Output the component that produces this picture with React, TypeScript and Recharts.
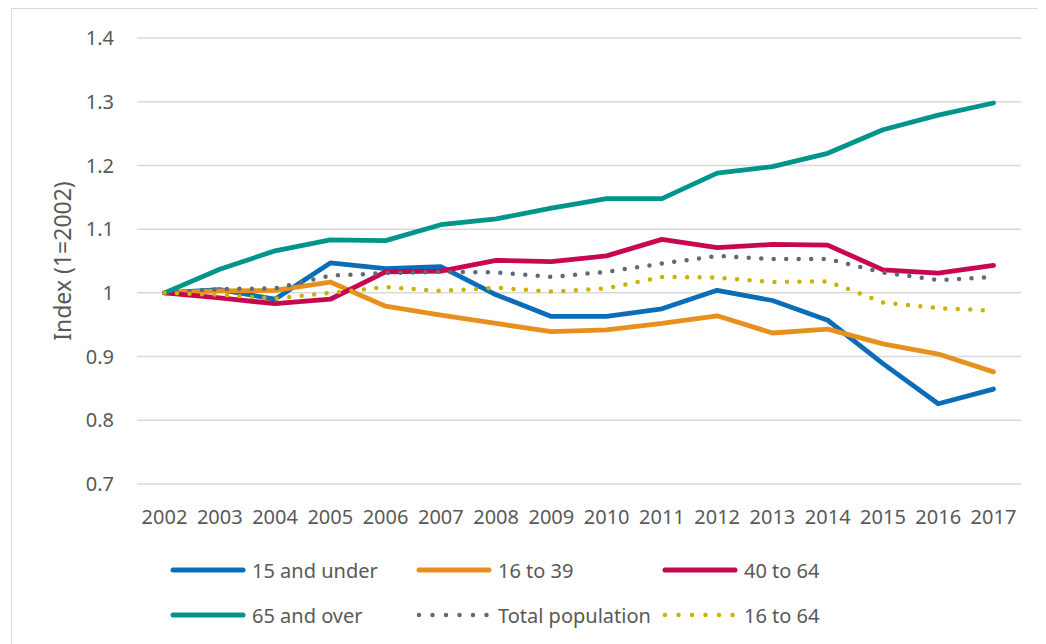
import React from "react";
import { LineChart, Line, XAxis, YAxis, CartesianGrid, Legend } from "recharts";

const years = ["2002","2003","2004","2005","2006","2007","2008","2009","2010","2011","2012","2013","2014","2015","2016","2017"];
const under15 = [1.0, 1.005, 0.99, 1.047, 1.038, 1.041, 0.997, 0.963, 0.963, 0.975, 1.004, 0.988, 0.957, 0.889, 0.826, 0.849];
const age16to39 = [1.0, 1.003, 1.004, 1.017, 0.979, 0.965, 0.952, 0.939, 0.942, 0.952, 0.964, 0.937, 0.943, 0.92, 0.904, 0.876];
const age40to64 = [1.0, 0.992, 0.983, 0.99, 1.033, 1.034, 1.051, 1.049, 1.058, 1.084, 1.071, 1.076, 1.075, 1.036, 1.031, 1.043];
const over65 = [1.0, 1.037, 1.066, 1.083, 1.082, 1.107, 1.116, 1.133, 1.148, 1.148, 1.188, 1.198, 1.219, 1.256, 1.279, 1.298];
const totalPop = [1.0, 1.006, 1.007, 1.027, 1.031, 1.033, 1.032, 1.025, 1.033, 1.046, 1.058, 1.053, 1.053, 1.032, 1.02, 1.025];
const age16to64 = [1.0, 0.997, 0.991, 1.0, 1.009, 1.003, 1.008, 1.002, 1.007, 1.025, 1.024, 1.017, 1.018, 0.985, 0.976, 0.972];
const yTicks = [0.7, 0.8, 0.9, 1, 1.1, 1.2, 1.3, 1.4];

const series = [
  { key: "under15", name: "15 and under", values: under15, color: "#0b6db7", dotted: false },
  { key: "age16to39", name: "16 to 39", values: age16to39, color: "#e8901e", dotted: false },
  { key: "age40to64", name: "40 to 64", values: age40to64, color: "#c7074f", dotted: false },
  { key: "over65", name: "65 and over", values: over65, color: "#00958a", dotted: false },
  { key: "totalPop", name: "Total population", values: totalPop, color: "#5e6b77", dotted: true },
  { key: "age16to64", name: "16 to 64", values: age16to64, color: "#c8b400", dotted: true },
];

const data = years.map((y, i) => {
  const row: Record<string, string | number> = { year: y };
  series.forEach((s) => {
    row[s.key] = s.values[i];
  });
  return row;
});

const FONT = "'Noto Sans', sans-serif";
const TEXT = "#595959";

const renderLegend = () => (
  <div style={{ position: "relative", width: 1038, height: 100 }}>
    {series.map((s, i) => {
      const col = i % 3;
      const row = Math.floor(i / 3);
      return (
        <div
          key={s.key}
          style={{
            position: "absolute",
            left: 162 + col * 246,
            top: row * 45,
            height: 30,
            display: "flex",
            alignItems: "center",
            fontFamily: FONT,
            fontSize: 20,
            color: TEXT,
            whiteSpace: "nowrap",
          }}
        >
          <svg width={76} height={10} style={{ marginRight: 6 }}>
            <line
              x1={3}
              y1={5}
              x2={73}
              y2={5}
              stroke={s.color}
              strokeWidth={s.dotted ? 4.5 : 5}
              strokeLinecap="round"
              strokeDasharray={s.dotted ? "0 13.5" : undefined}
            />
          </svg>
          <span>{s.name}</span>
        </div>
      );
    })}
  </div>
);

const YLabel = (props: any) => {
  const vb = props.viewBox || { x: 0, y: 30, width: 129, height: 446 };
  const cx = vb.x + 54;
  const cy = vb.y + vb.height / 2;
  return (
    <text
      x={cx}
      y={cy}
      transform={`rotate(-90, ${cx}, ${cy})`}
      textAnchor="middle"
      dominantBaseline="central"
      fill={TEXT}
      fontFamily={FONT}
      fontSize={23}
    >
      Index (1=2002)
    </text>
  );
};

export default function App() {
  return (
    <div style={{ position: "relative", width: 1038, height: 636, background: "#fff" }}>
      <div
        style={{
          position: "absolute",
          left: 3,
          top: 0,
          width: 1035,
          height: 636,
          borderLeft: "1.5px solid #d9d9d9",
          borderTop: "1.5px solid #d9d9d9",
          boxSizing: "border-box",
        }}
      />
      <div style={{ position: "absolute", left: 0, top: 0 }}>
        <LineChart
          width={1038}
          height={636}
          data={data}
          margin={{ top: 30, right: 25, bottom: 120, left: 0 }}
        >
          <CartesianGrid horizontal={true} vertical={false} stroke="#d9d9d9" strokeWidth={1.5} />
          <XAxis
            dataKey="year"
            axisLine={false}
            tickLine={false}
            tickSize={0}
            tickMargin={26}
            height={40}
            interval={0}
            padding={{ left: 27.5, right: 27.5 }}
            tick={{ fill: TEXT, fontFamily: FONT, fontSize: 20 }}
          />
          <YAxis
            type="number"
            domain={[0.7, 1.4]}
            ticks={yTicks}
            width={129}
            axisLine={false}
            tickLine={false}
            tickSize={0}
            tickMargin={23}
            interval={0}
            allowDataOverflow={true}
            tick={{ fill: TEXT, fontFamily: FONT, fontSize: 20 }}
            label={<YLabel />}
          />
          <Legend
            layout="horizontal"
            verticalAlign="middle"
            align="center"
            content={renderLegend}
            wrapperStyle={{ left: 0, top: 547, width: 1038, height: 100 }}
          />
          {series.map((s) => (
            <Line
              key={s.key}
              dataKey={s.key}
              name={s.name}
              type="linear"
              stroke={s.color}
              strokeWidth={s.dotted ? 4.5 : 4.8}
              strokeLinecap="round"
              strokeLinejoin="round"
              strokeDasharray={s.dotted ? "0 12.5" : undefined}
              dot={false}
              activeDot={false}
              isAnimationActive={false}
            />
          ))}
        </LineChart>
      </div>
    </div>
  );
}
